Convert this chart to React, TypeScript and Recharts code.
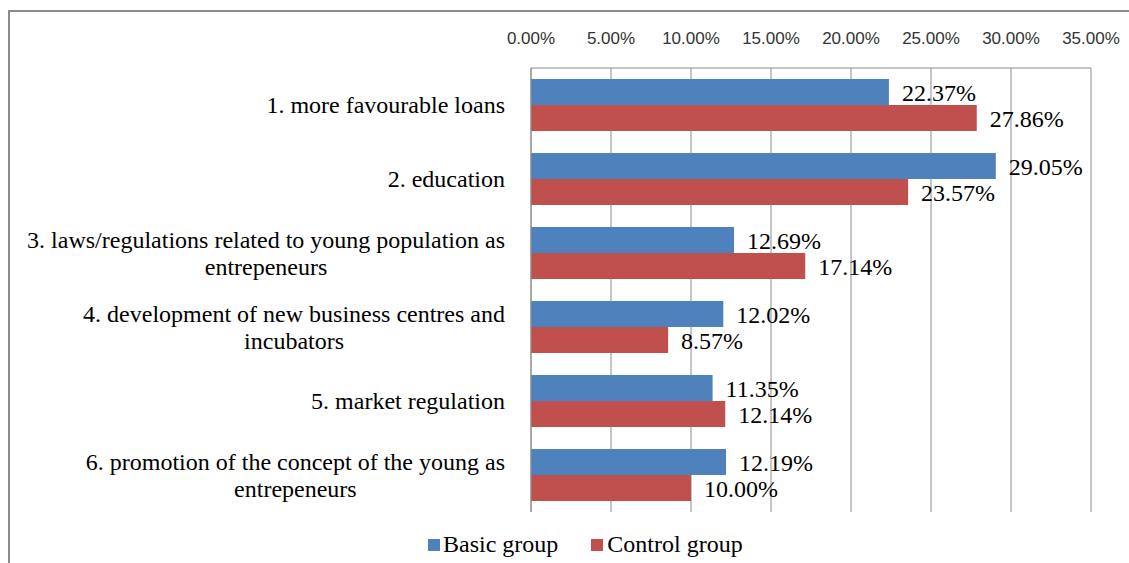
import React from 'react';
import { BarChart, Bar, XAxis, YAxis, CartesianGrid, Legend, LabelList } from 'recharts';

// categories (line breaks as they wrap in the original)
const categories = [
  '1. more favourable loans',
  '2. education',
  '3. laws/regulations related to young population as\nentrepeneurs',
  '4. development of new business centres and\nincubators',
  '5. market regulation',
  '6. promotion of the concept of the young as\nentrepeneurs',
];
const basicGroup = [22.37, 29.05, 12.69, 12.02, 11.35, 12.19];
const controlGroup = [27.86, 23.57, 17.14, 8.57, 12.14, 10.0];
const xTicks = [0, 5, 10, 15, 20, 25, 30, 35];

const data = categories.map((name, i) => ({
  name,
  basic: basicGroup[i],
  control: controlGroup[i],
}));

const SERIF = '"Liberation Serif", serif';
const SANS = '"Liberation Sans", sans-serif';
const BLUE = '#4F81BD';
const RED = '#C0504D';
const GRID = '#8c8c8c';

let measureCtx: CanvasRenderingContext2D | null = null;
const textWidth = (s: string, font: string) => {
  if (!measureCtx) measureCtx = document.createElement('canvas').getContext('2d');
  if (!measureCtx) return s.length * 10;
  measureCtx.font = font;
  return measureCtx.measureText(s).width;
};

// category label: block right-aligned to the axis, lines centred within the block
const CategoryTick = (props: any) => {
  const { x, y, payload } = props;
  const lines: string[] = String(payload.value).split('\n');
  const w = Math.max(...lines.map((l) => textWidth(l, `24px ${SERIF}`)));
  const cx = x - w / 2;
  const lh = 27;
  const start = y - ((lines.length - 1) * lh) / 2;
  return (
    <g>
      {lines.map((l, i) => (
        <text
          key={i}
          x={cx}
          y={start + i * lh}
          dy={8}
          textAnchor="middle"
          style={{ fontFamily: SERIF, fontSize: 24 }}
          fill="#000"
        >
          {l}
        </text>
      ))}
    </g>
  );
};

const LegendContent = () => (
  <div style={{ display: 'flex', alignItems: 'center', fontFamily: SERIF, fontSize: 24, color: '#000' }}>
    <span style={{ width: 12, height: 12, background: BLUE, display: 'inline-block', marginRight: 3 }} />
    <span style={{ marginRight: 33 }}>Basic group</span>
    <span style={{ width: 12, height: 12, background: RED, display: 'inline-block', marginRight: 4 }} />
    <span>Control group</span>
  </div>
);

const fmt = (v: any) => `${Number(v).toFixed(2)}%`;

const App: React.FC = () => {
  return (
    <div style={{ position: 'absolute', left: 0, top: 0, width: 1129, height: 563, overflow: 'hidden', background: '#fff' }}>
      <div
        style={{
          position: 'absolute',
          left: 8,
          top: 10,
          width: 1200,
          height: 700,
          borderLeft: `2px solid ${GRID}`,
          borderTop: `2px solid ${GRID}`,
        }}
      />
      <div style={{ position: 'absolute', left: 0, top: 0 }}>
        <BarChart
          width={1129}
          height={563}
          data={data}
          layout="vertical"
          margin={{ top: 28, right: 38, bottom: 21, left: 0 }}
          barGap={0}
        >
          <CartesianGrid horizontal={false} stroke={GRID} />
          <XAxis
            type="number"
            orientation="top"
            domain={[0, 35]}
            ticks={xTicks}
            tickFormatter={fmt}
            height={40}
            tickLine={false}
            tickSize={0}
            tickMargin={24}
            axisLine={{ stroke: GRID }}
            tick={{ fill: '#333', fontFamily: SANS, fontSize: 17 }}
            interval={0}
          />
          <YAxis
            type="category"
            dataKey="name"
            width={531}
            tickLine={false}
            tickSize={0}
            tickMargin={26}
            axisLine={{ stroke: GRID }}
            tick={<CategoryTick />}
            interval={0}
          />
          <Legend
            verticalAlign="bottom"
            height={30}
            wrapperStyle={{ left: 428, bottom: 2, width: 'auto' }}
            content={<LegendContent />}
          />
          <Bar dataKey="basic" name="Basic group" fill={BLUE} barSize={26} isAnimationActive={false}>
            <LabelList dataKey="basic" position="right" offset={13} formatter={fmt} fill="#000" style={{ fontFamily: SERIF, fontSize: 24 }} />
          </Bar>
          <Bar dataKey="control" name="Control group" fill={RED} barSize={26} isAnimationActive={false}>
            <LabelList dataKey="control" position="right" offset={13} formatter={fmt} fill="#000" style={{ fontFamily: SERIF, fontSize: 24 }} />
          </Bar>
        </BarChart>
      </div>
    </div>
  );
};

export default App;
